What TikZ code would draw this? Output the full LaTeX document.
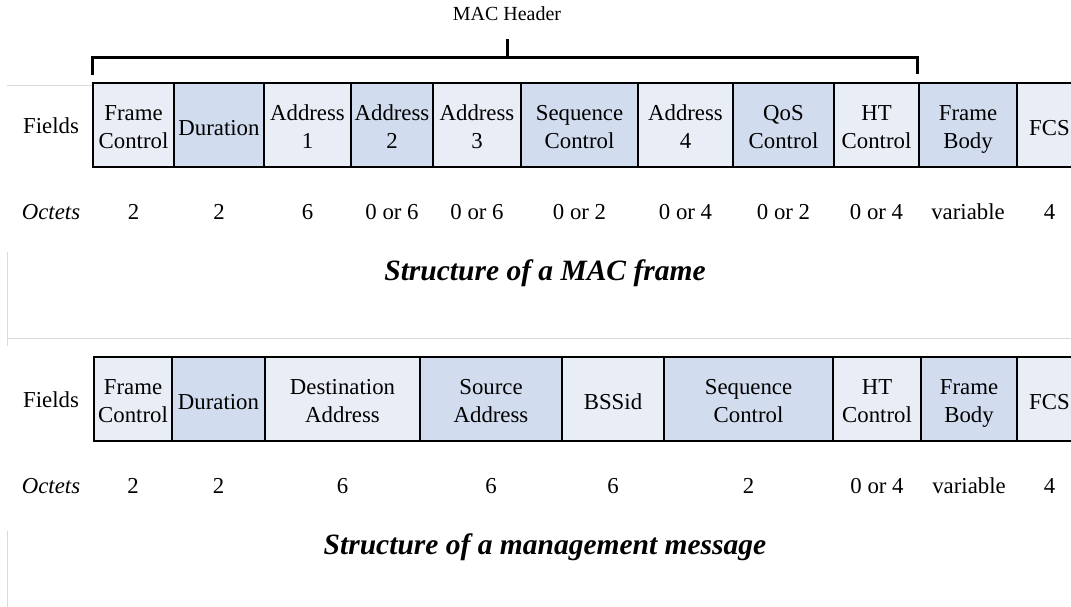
\documentclass[tikz,border=0pt]{standalone}
\usepackage{fontspec}
\setmainfont{Liberation Serif}
\definecolor{celllight}{RGB}{233,237,246}
\definecolor{celldark}{RGB}{209,221,238}
\definecolor{rulegray}{RGB}{218,218,218}
\newcommand\fieldfont{\fontsize{22.8}{28.3}\selectfont}
\newcommand\titlefont{\fontsize{29.5}{34}\selectfont\bfseries\itshape}
% struts that fix the baselines inside the cells
\newcommand\twoln{\rule[-4pt]{0pt}{27.1pt}}
\newcommand\oneln{\rule[-2pt]{0pt}{25.4pt}}
\newcommand\cellii[2]{\smash{#1}\twoln\\\smash{#2}\twoln}
\newcommand\celli[1]{\smash{#1}\oneln}
\begin{document}
\begin{tikzpicture}[x=1pt,y=-1pt,
  cell/.style={draw=black, line width=1.9pt, minimum height=84pt, inner sep=0pt,
    outer sep=0pt, anchor=west, align=center, font=\fieldfont},
  lcell/.style={cell, fill=celllight},
  dcell/.style={cell, fill=celldark},
  rowlabel/.style={font=\fieldfont, anchor=center},
  octet/.style={font=\fieldfont, anchor=center},
  caption/.style={font=\titlefont, anchor=center},
  bracketline/.style={line width=3pt, line join=miter},
  faint/.style={draw=rulegray, line width=0.9pt}]
\clip (0,0) rectangle (1071,607);

% faint frame remnants
\draw[faint] (7,85) -- (92,85);
\draw[faint] (7,338) -- (1071,338);
\draw[faint] (7,252) -- (7,346);
\draw[faint] (7,531) -- (7,607);

% ---------- MAC frame ----------
\node[rowlabel] (f1) at (51,126) {Fields};
\node[lcell, minimum width=81] (a1) at (93,125) {\cellii{Frame}{Control}};
\node[dcell, minimum width=90] (a2) at (a1.east) {\celli{Duration}};
\node[lcell, minimum width=87] (a3) at (a2.east) {\cellii{Address}{1}};
\node[dcell, minimum width=82] (a4) at (a3.east) {\cellii{Address}{2}};
\node[lcell, minimum width=88] (a5) at (a4.east) {\cellii{Address}{3}};
\node[dcell, minimum width=117] (a6) at (a5.east) {\cellii{Sequence}{Control}};
\node[lcell, minimum width=95] (a7) at (a6.east) {\cellii{Address}{4}};
\node[dcell, minimum width=101] (a8) at (a7.east) {\cellii{QoS}{Control}};
\node[lcell, minimum width=85] (a9) at (a8.east) {\cellii{HT}{Control}};
\node[dcell, minimum width=98] (a10) at (a9.east) {\cellii{Frame}{Body}};
\node[lcell, minimum width=65] (a11) at (a10.east) {\celli{FCS}};

\node[rowlabel] (o0) at (51,212) {\itshape Octets};
\node[octet] (o1) at (a1 |- 0,212) {2};
\node[octet] (o2) at (a2 |- 0,212) {2};
\node[octet] (o3) at (a3 |- 0,212) {6};
\node[octet] (o4) at (a4 |- 0,212) {0 or 6};
\node[octet] (o5) at (a5 |- 0,212) {0 or 6};
\node[octet] (o6) at (a6 |- 0,212) {0 or 2};
\node[octet] (o7) at (a7 |- 0,212) {0 or 4};
\node[octet] (o8) at (a8 |- 0,212) {0 or 2};
\node[octet] (o9) at (a9 |- 0,212) {0 or 4};
\node[octet] (o10) at (a10 |- 0,212) {variable};
\node[octet] (o11) at (a11 |- 0,212) {4};

\node[caption] (t1) at (545,273) {Structure of a MAC frame};

% MAC header bracket
\node[font=\fontsize{20}{24}\selectfont] (hdr) at (507,14) {MAC Header};
\coordinate (bl) at (92,75);
\coordinate (br) at (917,74);
\coordinate (bm) at (507,39);
\draw[bracketline] (bl) -- (bl |- 0,58) -- (br |- 0,58) -- (br);
\draw[bracketline] (bm) -- (bm |- 0,58);

% ---------- management message ----------
\node[rowlabel] (g1) at (51,400) {Fields};
\node[lcell, minimum width=78] (b1) at (94,399) {\cellii{Frame}{Control}};
\node[dcell, minimum width=93] (b2) at (b1.east) {\celli{Duration}};
\node[lcell, minimum width=155] (b3) at (b2.east) {\cellii{Destination}{Address}};
\node[dcell, minimum width=142] (b4) at (b3.east) {\cellii{Source}{Address}};
\node[lcell, minimum width=102] (b5) at (b4.east) {\celli{BSSid}};
\node[dcell, minimum width=169] (b6) at (b5.east) {\cellii{Sequence}{Control}};
\node[lcell, minimum width=88] (b7) at (b6.east) {\cellii{HT}{Control}};
\node[dcell, minimum width=96] (b8) at (b7.east) {\cellii{Frame}{Body}};
\node[lcell, minimum width=65] (b9) at (b8.east) {\celli{FCS}};

\node[rowlabel] (p0) at (51,486) {\itshape Octets};
\node[octet] (p1) at (b1 |- 0,486) {2};
\node[octet] (p2) at (b2 |- 0,486) {2};
\node[octet] (p3) at (b3 |- 0,486) {6};
\node[octet] (p4) at (b4 |- 0,486) {6};
\node[octet] (p5) at (b5 |- 0,486) {6};
\node[octet] (p6) at (b6 |- 0,486) {2};
\node[octet] (p7) at (b7 |- 0,486) {0 or 4};
\node[octet] (p8) at (b8 |- 0,486) {variable};
\node[octet] (p9) at (b9 |- 0,486) {4};

\node[caption] (t2) at (545,547) {Structure of a management message};
\end{tikzpicture}
\end{document}
